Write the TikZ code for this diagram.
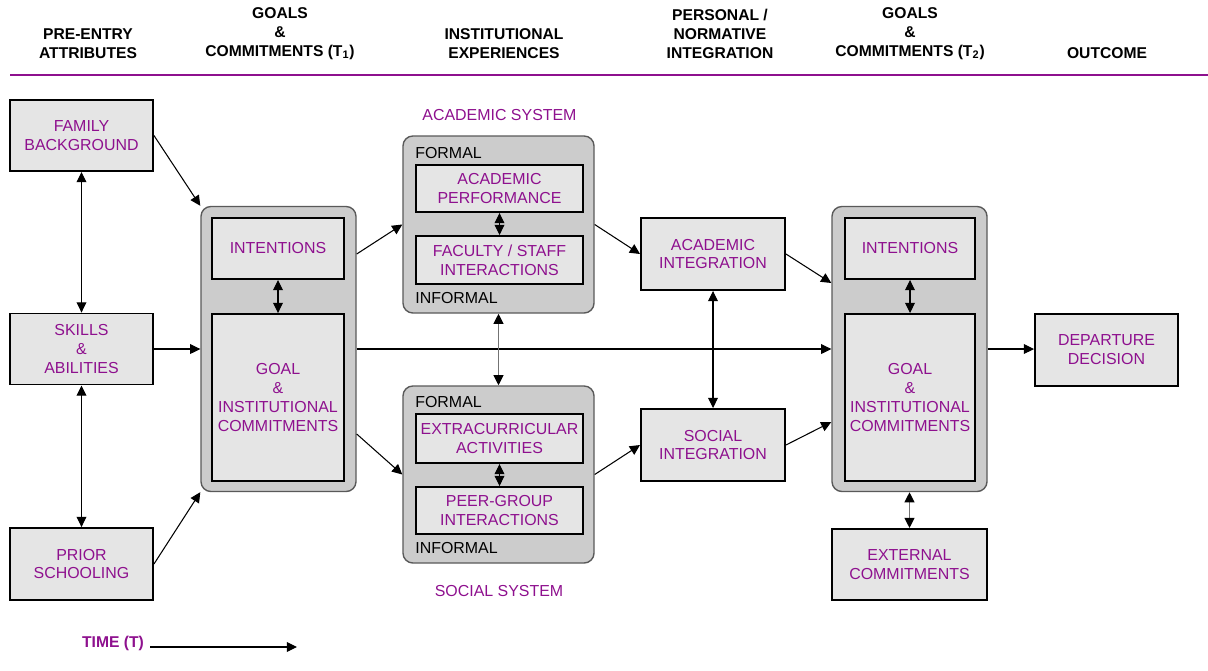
\documentclass[tikz,border=0pt]{standalone}
\usepackage{fontspec}
\setmainfont{Liberation Sans}
\usetikzlibrary{arrows.meta,calc}
\definecolor{lila}{RGB}{142,16,142}
\tikzset{
	kasten/.style 2 args={draw=black, line width=1.1pt, fill=black!10, text=lila, align=center, inner sep=1pt,
		minimum width=#1*0.02cm, minimum height=#2*0.02cm},
	gruppe/.style 2 args={draw=black!65, line width=0.8pt, fill=black!20, rounded corners=5.6pt,
		minimum width=#1*0.02cm, minimum height=#2*0.02cm},
	kopf/.style={font=\fontsize{8.9}{10.77}\selectfont\bfseries, align=center},
	pfeil/.style={-{Triangle[length=5.8pt,width=5.6pt]}, line width=0.6pt},
	doppel/.style={{Triangle[length=5.8pt,width=5.6pt]}-{Triangle[length=5.8pt,width=5.6pt]}, line width=0.6pt},
	grau/.style={{Triangle[length=5.8pt,width=5.6pt,color=black]}-{Triangle[length=5.8pt,width=5.6pt,color=black]}, draw=black!55, line width=1pt},
}
\begin{document}
\begin{tikzpicture}[x=0.02cm, y=-0.02cm, font=\fontsize{9.07}{10.77}\selectfont]
	\useasboundingbox (0,0) rectangle (1208,670);
	
	% Kopfzeile
	\node[kopf] (k1) at (88,43.5) {PRE-ENTRY\\ATTRIBUTES};
	\node[kopf] (k2) at (280,34) {GOALS\\\&\\COMMITMENTS (T\textsubscript{1})};
	\node[kopf] (k3) at (504,43.5) {INSTITUTIONAL\\EXPERIENCES};
	\node[kopf] (k4) at (720,34) {PERSONAL /\\NORMATIVE\\INTEGRATION};
	\node[kopf] (k5) at (910,34) {GOALS\\\&\\COMMITMENTS (T\textsubscript{2})};
	\node[kopf] (k6) at (1107,53) {OUTCOME};
	\draw[lila, line width=1.7pt] (10,75) -- (1208,75);
	
	% Eingangsmerkmale
	\node[kasten={143}{71}] (fam) at (81.5,135.5) {FAMILY\\BACKGROUND};
	\node[kasten={143}{71}] (skill) at (81.5,349) {SKILLS\\\&\\ABILITIES};
	\node[kasten={143}{72}] (prior) at (81.5,564) {PRIOR\\SCHOOLING};
	
	% Ziele (T1)
	\node[gruppe={155}{285}] (t1) at (278.5,349) {};
	\node[kasten={132}{61}] (int1) at (278,248.5) {INTENTIONS};
	\node[kasten={132}{167}] (goal1) at (278,397.5) {GOAL\\\&\\INSTITUTIONAL\\COMMITMENTS};
	
	% Akademisches System
	\node[text=lila] (acsys) at (499.5,115) {ACADEMIC SYSTEM};
	\node[gruppe={191}{177}] (acad) at (498.5,224.5) {};
	\node[anchor=west, inner sep=0pt] (formal1) at (415,153) {FORMAL};
	\node[anchor=west, inner sep=0pt] (informal1) at (415,298) {INFORMAL};
	\node[kasten={167}{47}] (perf) at (499.5,188.5) {ACADEMIC\\PERFORMANCE};
	\node[kasten={167}{48}] (fac) at (499.5,260) {FACULTY / STAFF\\INTERACTIONS};
	
	% Soziales System
	\node[gruppe={191}{177}] (soc) at (498.5,474.5) {};
	\node[anchor=west, inner sep=0pt] (formal2) at (415,402) {FORMAL};
	\node[anchor=west, inner sep=0pt] (informal2) at (415,548) {INFORMAL};
	\node[kasten={167}{49}] (extra) at (499.5,438.5) {EXTRACURRICULAR\\ACTIVITIES};
	\node[kasten={167}{47}] (peer) at (499.5,510.5) {PEER-GROUP\\INTERACTIONS};
	\node[text=lila] (socsys) at (499,591) {SOCIAL SYSTEM};
	
	% Integration
	\node[kasten={144}{72}] (acint) at (713,254) {ACADEMIC\\INTEGRATION};
	\node[kasten={144}{72}] (soint) at (713,445) {SOCIAL\\INTEGRATION};
	
	% Ziele (T2)
	\node[gruppe={155}{285}] (t2) at (909.5,349) {};
	\node[kasten={130}{61}] (int2) at (910,248.5) {INTENTIONS};
	\node[kasten={130}{167}] (goal2) at (910,397.5) {GOAL\\\&\\INSTITUTIONAL\\COMMITMENTS};
	\node[kasten={155}{71}] (ext) at (909.5,564.5) {EXTERNAL\\COMMITMENTS};
	
	% Ergebnis
	\node[kasten={143}{72}] (dep) at (1106.5,350) {DEPARTURE\\DECISION};
	
	% Pfeile
	\draw[pfeil] (fam.east) -- (t1.north west);
	\draw[pfeil] (skill.east) -- (t1.west);
	\draw[pfeil] (prior.east) -- (t1.south west);
	\draw[doppel] (fam.south) -- (skill.north);
	\draw[doppel] (skill.south) -- (prior.north);
	\draw[doppel] (int1.south) -- (goal1.north);
	\draw[pfeil] ($(t1.east)+(0,-95)$) -- (acad.west);
	\draw[pfeil] ($(t1.east)+(0,85)$) -- (soc.west);
	\draw[pfeil] (t1.east) -- (t2.west);
	\draw[doppel] (perf.south) -- (fac.north);
	\draw[grau] (acad.south) -- (soc.north);
	\draw[doppel] (extra.south) -- (peer.north);
	\draw[pfeil] (acad.east) -- (acint.west);
	\draw[pfeil] (soc.east) -- (soint.west);
	\draw[doppel] (acint.south) -- (soint.north);
	\draw[pfeil] (acint.east) -- ($(t2.west)+(0,-66)$);
	\draw[pfeil] (soint.east) -- ($(t2.west)+(0,73)$);
	\draw[doppel] (int2.south) -- (goal2.north);
	\draw[pfeil] (t2.east) -- (t2.east -| dep.west);
	\draw[grau] (t2.south) -- (ext.north);
	
	% Zeitachse
	\node[kopf, text=lila] (zeit) at (113,643) {TIME (T)};
	\coordinate (zeitende) at (297,647);
	\draw[pfeil] (zeit.east |- zeitende) -- (zeitende);
\end{tikzpicture}
\end{document}
